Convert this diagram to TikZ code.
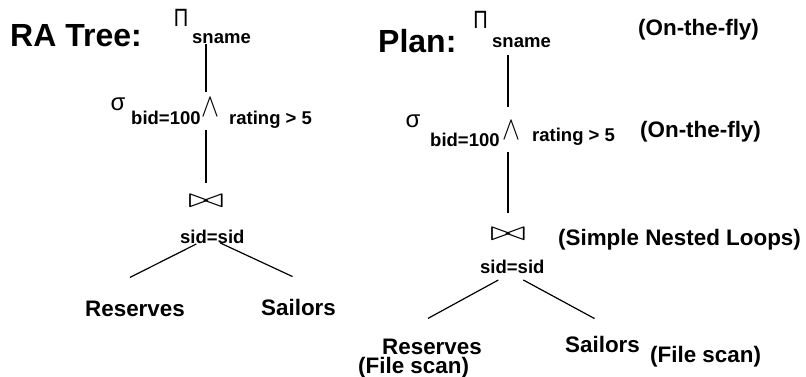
\documentclass[tikz,border=0pt]{standalone}
\usepackage{fontspec}
\setmainfont{Liberation Sans}
\usetikzlibrary{calc}
\tikzset{
  heading/.style={font=\fontsize{32}{32}\selectfont\bfseries, inner sep=0pt, anchor=base west},
  lbl/.style={font=\fontsize{22.4}{22.4}\selectfont\bfseries, inner sep=0pt, anchor=base west},
  cond/.style={font=\fontsize{18.5}{18.5}\selectfont\bfseries, inner sep=0pt, anchor=base west},
  opnode/.style={inner sep=0pt},
  edge/.style={line width=1.2pt}
}
% operator glyphs
\newcommand{\projsym}{\scalebox{0.8}[1]{\fontsize{25}{25}\selectfont Π}}
\newcommand{\selsym}{{\fontsize{24}{24}\selectfont σ}}
\newcommand{\andsym}{\scalebox{2.7}[3.3]{$\wedge$}}
\newcommand{\joinsym}{\scalebox{4.3}[2.7]{$\bowtie$}}
\begin{document}
\begin{tikzpicture}[x=1pt,y=-1pt]
\useasboundingbox (0,0) rectangle (806,377);

% ---- relational algebra tree ----
\node[heading] (raT) at (10,47) {RA Tree:};
\node[opnode] (piL) at (181,18) {\projsym};
\node[cond] (snL) at (192,44) {sname};
\node[opnode] (sgL) at (118,104) {\selsym};
\node[cond] (bidL) at (131,125) {bid=100};
\node[opnode] (andL) at (210,107) {\andsym};
\node[cond] (ratL) at (229,125) {rating > 5};
\node[opnode] (joL) at (206,201) {\joinsym};
\node[cond] (sidL) at (180,243) {sid=sid};
\node[lbl] (resL) at (85,316) {Reserves};
\node[lbl] (saiL) at (261,315) {Sailors};

\draw[edge] (joL.center |- snL.base) -- ($(joL.center |- andL.north)+(0,-6)$);
\draw[edge] ($(joL.center |- bidL.base)+(0,5)$) -- ($(joL.north)+(0,-12)$);
\draw[edge] ($(sidL.base)+(-16,1)$) -- ($(resL.north)+(-5,-23)$);
\draw[edge] ($(sidL.base)+(8,0)$) -- ($(saiL.north)+(-6,-22)$);

% ---- evaluation plan ----
\node[heading] (plT) at (378,53) {Plan:};
\node[opnode] (piR) at (480.5,20) {\projsym};
\node[cond] (snR) at (492,48) {sname};
\node[lbl] (ofA) at (638,36) {(On-the-fly)};
\node[opnode] (sgR) at (413,121) {\selsym};
\node[cond] (bidR) at (430,147) {bid=100};
\node[opnode] (andR) at (511,130) {\andsym};
\node[cond] (ratR) at (532,142) {rating > 5};
\node[lbl] (ofB) at (640,138) {(On-the-fly)};
\node[opnode] (joR) at (508,234) {\joinsym};
\node[lbl] (snl) at (558,245) {(Simple Nested Loops)};
\node[cond] (sidR) at (480,273) {sid=sid};
\node[lbl] (resR) at (382,354) {Reserves};
\node[lbl] (fsA) at (358,373) {(File scan)};
\node[lbl] (saiR) at (565,352) {Sailors};
\node[lbl] (fsB) at (650,362) {(File scan)};

\draw[edge] ($(joR.center |- snR.base)+(0,7)$) -- ($(joR.center |- andR.north)+(0,-14)$);
\draw[edge] ($(joR.center |- bidR.base)+(0,5)$) -- ($(joR.north)+(0,-15)$);
\draw[edge] ($(sidR.base)+(-14,7)$) -- ($(resR.north)+(-4,-20)$);
\draw[edge] ($(sidR.base)+(11,7)$) -- ($(saiR.north)+(-8,-17)$);
\end{tikzpicture}
\end{document}
